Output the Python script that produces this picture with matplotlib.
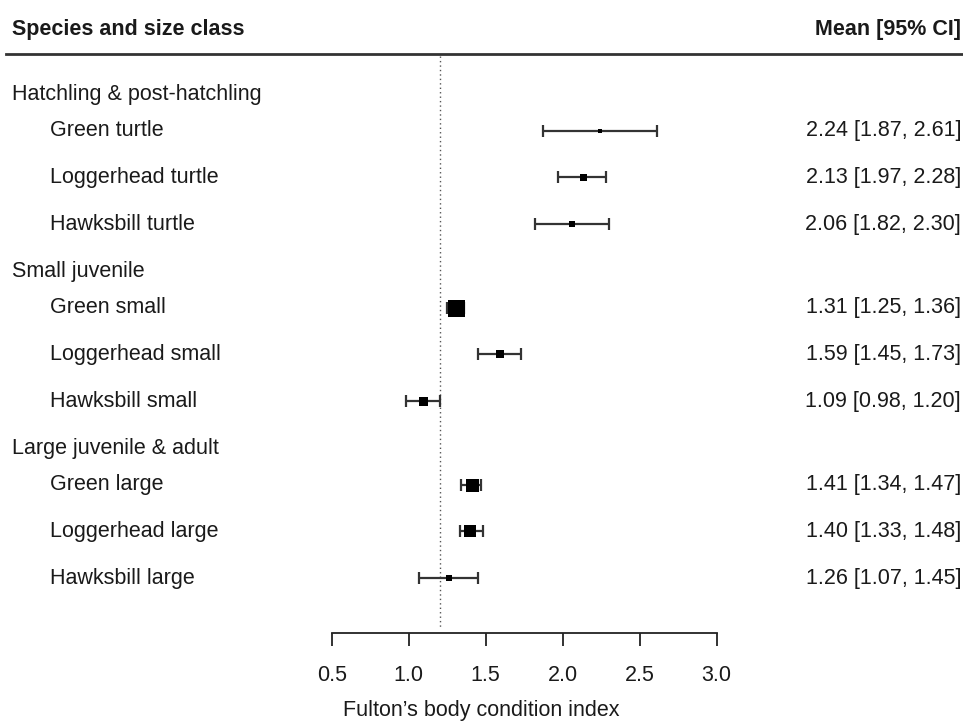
import matplotlib
matplotlib.use("Agg")
import matplotlib.pyplot as plt
import matplotlib.transforms as mtrans

# ---------------- data ----------------
groups = ["Hatchling & post-hatchling", "Small juvenile", "Large juvenile & adult"]
labels = ["Green turtle", "Loggerhead turtle", "Hawksbill turtle",
          "Green small", "Loggerhead small", "Hawksbill small",
          "Green large", "Loggerhead large", "Hawksbill large"]
means = [2.24, 2.13, 2.06, 1.31, 1.59, 1.09, 1.41, 1.40, 1.26]
lower = [1.87, 1.97, 1.82, 1.25, 1.45, 0.98, 1.34, 1.33, 1.07]
upper = [2.61, 2.28, 2.30, 1.36, 1.73, 1.20, 1.47, 1.48, 1.45]
weights = [5, 7, 6, 17, 8, 9, 13, 12, 6]   # relative study weights (box size)
xticks = [0.5, 1.0, 1.5, 2.0, 2.5, 3.0]
ref_value = 1.2
col_left = "Species and size class"
col_right = "Mean [95% CI]"
xlabel = "Fulton\u2019s body condition index"

# ---------------- layout ----------------
plt.rcParams["font.family"] = ["Liberation Sans", "DejaVu Sans"]
W, H, DPI = 963, 722, 100
fig = plt.figure(figsize=(W / DPI, H / DPI), dpi=DPI)
ax = fig.add_axes([0, 0, 1, 1])

px_per_unit = 154.0
x0_px = 331.7
ax.set_xlim(0.5 - x0_px / px_per_unit, 0.5 + (W - x0_px) / px_per_unit)

row_px = 46.7
first_px = 130.7
ax.set_ylim((H - first_px) / row_px, -first_px / row_px)

n_per_group = 3
group_step = (n_per_group - 1) + 1.79
ys = [g * group_step + i for g in range(len(groups)) for i in range(n_per_group)]
header_ys = [g * group_step - 0.77 for g in range(len(groups))]

txt_color = "#1a1a1a"
fs = 15.5
blend = mtrans.blended_transform_factory(ax.transAxes, ax.transData)

# column headers
y_head = (30 - first_px) / row_px
ax.text(12 / W, y_head, col_left, transform=blend, ha="left", va="center",
        fontsize=fs, fontweight="bold", color=txt_color)
ax.text(961 / W, y_head, col_right, transform=blend, ha="right", va="center",
        fontsize=fs, fontweight="bold", color=txt_color)
y_line = (53.5 - first_px) / row_px
ax.axhline(y_line, xmin=6 / W, xmax=1.0, color="#333333", lw=2.0)

# group headers
for g, yh in zip(groups, header_ys):
    ax.text(12 / W, yh, g, transform=blend, ha="left", va="center",
            fontsize=fs, color=txt_color)

# item labels and values
for lab, y, m, lo, up in zip(labels, ys, means, lower, upper):
    ax.text(50 / W, y, lab, transform=blend, ha="left", va="center",
            fontsize=fs, color=txt_color)
    ax.text(961 / W, y, f"{m:.2f} [{lo:.2f}, {up:.2f}]", transform=blend,
            ha="right", va="center", fontsize=fs, color=txt_color)

# reference line
y_axis = (632.7 - first_px) / row_px
ax.vlines(ref_value, y_line + 0.05, y_axis - 0.1, colors="#555555",
          linestyles=(0, (1, 2.2)), lw=1.0)

# confidence intervals
xerr = [[m - lo for m, lo in zip(means, lower)], [up - m for m, up in zip(means, upper)]]
ax.errorbar(means, ys, xerr=xerr, fmt="none", ecolor="#333333",
            elinewidth=1.6, capsize=4.3, capthick=1.6)
for m, y, w in zip(means, ys, weights):
    ax.plot(m, y, marker="s", ms=w * 0.72, color="black", mew=0, ls="none")

# x axis
for s in ["top", "left", "right"]:
    ax.spines[s].set_visible(False)
ax.spines["bottom"].set_position(("data", y_axis))
ax.spines["bottom"].set_bounds(xticks[0], xticks[-1])
ax.spines["bottom"].set_linewidth(1.3)
ax.spines["bottom"].set_color("#222222")
ax.set_xticks(xticks)
ax.set_xticklabels([f"{t:.1f}" for t in xticks])
ax.tick_params(axis="x", direction="out", length=9.5, width=1.3, colors="#222222",
               labelsize=fs, pad=14, labelcolor=txt_color)
ax.set_yticks([])
ax.set_xlabel(xlabel, fontsize=fs, color=txt_color, labelpad=10)

fig.savefig("out.png", dpi=DPI)
